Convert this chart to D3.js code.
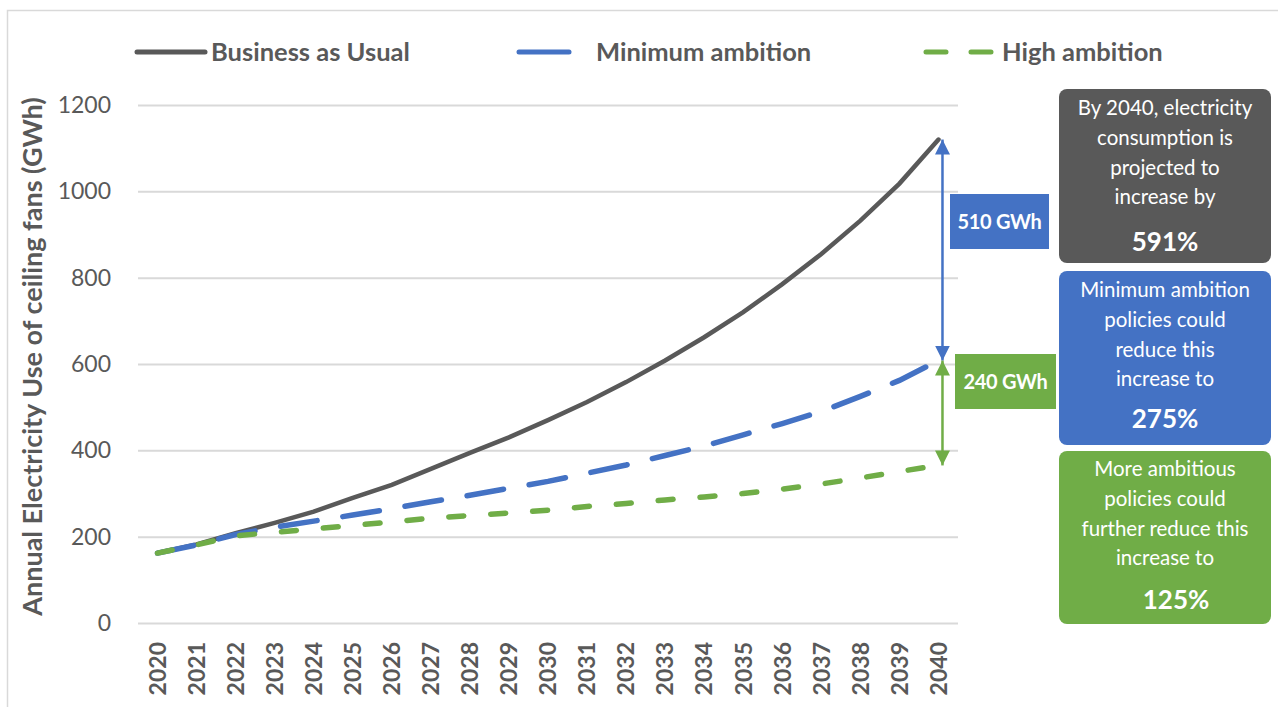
<!DOCTYPE html>
<html>
<head>
<meta charset="utf-8">
<script src="https://cdn.jsdelivr.net/npm/d3@7"></script>
<style>
  body { margin: 0; background: #fff; }
  svg { font-family: Lato, "Open Sans", sans-serif; }
</style>
</head>
<body>
<div id="chart"></div>
<script>
// chart data
const years = d3.range(2020, 2041).map(String);
const bau  = [162, 182, 208, 232, 258, 290, 320, 357, 394, 430, 470, 512, 558, 608, 662, 720, 785, 855, 932, 1018, 1120];
const minA = [162, 181, 205, 222, 236, 250, 265, 281, 296, 312, 328, 347, 366, 388, 410, 436, 462, 490, 525, 562, 608];
const highA = [162, 181, 202, 210, 218, 226, 234, 243, 249, 255, 261, 270, 277, 285, 292, 300, 310, 322, 336, 351, 365];
const yTicks = [0, 200, 400, 600, 800, 1000, 1200];

const seriesNames = ['Business as Usual', 'Minimum ambition', 'High ambition'];
const colors = ['#595959', '#4472C4', '#70AD47'];
const dashes = [null, '37 26', '15 27'];

const boxTexts = [
    { lines: ['By 2040, electricity', 'consumption is', 'projected to', 'increase by'], big: '591%' },
    { lines: ['Minimum ambition', 'policies could', 'reduce this', 'increase to'], big: '275%' },
    { lines: ['More ambitious', 'policies could', 'further reduce this', 'increase to'], big: '125%' }
];
const gapLabels = ['510 GWh', '240 GWh'];

const width = 1278, height = 707;
const svg = d3.select('#chart').append('svg')
    .attr('width', width)
    .attr('height', height);

// outer frame
svg.append('rect')
    .attr('x', 7.5).attr('y', 10.5)
    .attr('width', 1290).attr('height', 720)
    .attr('fill', 'none')
    .attr('stroke', '#d9d9d9')
    .attr('stroke-width', 1.5);

const x = d3.scaleBand().domain(years).range([138, 958]);
const y = d3.scaleLinear().domain([0, 1200]).range([623, 105]);
const cx = d => x(d) + x.bandwidth() / 2;

// gridlines + y labels
const yAxis = svg.append('g')
    .attr('transform', 'translate(138,0)')
    .call(d3.axisLeft(y).tickValues(yTicks).tickFormat(d3.format('d')).tickSize(-820).tickPadding(27));
yAxis.select('.domain').remove();
yAxis.selectAll('.tick line').attr('stroke', '#d9d9d9').attr('stroke-width', 2);
yAxis.selectAll('.tick text')
    .attr('fill', '#595959')
    .style('font-size', '23px')
    .style('font-family', 'Lato, sans-serif');

// x labels
const xAxis = svg.append('g')
    .attr('transform', 'translate(0,623)')
    .call(d3.axisBottom(x).tickSize(0));
xAxis.select('.domain').remove();
xAxis.selectAll('.tick text')
    .attr('transform', 'rotate(-90)')
    .attr('x', -19)
    .attr('y', 0)
    .attr('dy', '0.36em')
    .attr('text-anchor', 'end')
    .attr('fill', '#595959')
    .style('font-size', '23px')
    .style('font-weight', 'bold')
    .style('font-family', 'Lato, sans-serif');

// y axis title
svg.append('text')
    .attr('transform', `translate(42,${(93 + 620) / 2}) rotate(-90)`)
    .attr('text-anchor', 'middle')
    .attr('fill', '#595959')
    .style('font-size', '27px')
    .style('font-weight', 'bold')
    .text('Annual Electricity Use of ceiling fans (GWh)');

// lines
const line = d3.line()
    .x((d, i) => cx(years[i]))
    .y(d => y(d));

[bau, minA, highA].forEach((vals, i) => {
    svg.append('path')
        .datum(vals)
        .attr('d', line)
        .attr('fill', 'none')
        .attr('stroke', colors[i])
        .attr('stroke-width', i === 0 ? 4.5 : 5.5)
        .attr('stroke-linecap', 'round')
        .attr('stroke-dasharray', dashes[i]);
});

// arrow markers
const defs = svg.append('defs');
colors.slice(1).forEach((c, i) => {
    ['start', 'end'].forEach(pos => {
        defs.append('marker')
            .attr('id', `arr-${i}-${pos}`)
            .attr('viewBox', '0 0 10 10')
            .attr('refX', 10).attr('refY', 5)
            .attr('markerWidth', 6).attr('markerHeight', 6)
            .attr('markerUnits', 'strokeWidth')
            .attr('orient', pos === 'start' ? 'auto-start-reverse' : 'auto')
            .append('path')
            .attr('d', 'M0,0 L10,5 L0,10 Z')
            .attr('fill', c);
    });
});

const last = years.length - 1;
const ax = cx(years[last]) + 4;
const ends = [[bau[last], minA[last]], [minA[last], highA[last]]];
ends.forEach(([top, bottom], i) => {
    svg.append('line')
        .attr('x1', ax).attr('x2', ax)
        .attr('y1', y(top)).attr('y2', y(bottom))
        .attr('stroke', colors[i + 1])
        .attr('stroke-width', 2.5)
        .attr('marker-start', `url(#arr-${i}-start)`)
        .attr('marker-end', `url(#arr-${i}-end)`);
});

// gap label boxes
const gapBoxes = [
    { x: 950, y: 194, w: 99, h: 55 },
    { x: 955, y: 354, w: 101, h: 55 }
];
gapBoxes.forEach((b, i) => {
    svg.append('rect')
        .attr('x', b.x).attr('y', b.y)
        .attr('width', b.w).attr('height', b.h)
        .attr('fill', colors[i + 1]);
    svg.append('text')
        .attr('x', b.x + b.w / 2).attr('y', b.y + b.h / 2)
        .attr('dy', '0.35em')
        .attr('text-anchor', 'middle')
        .attr('fill', '#fff')
        .style('font-size', '20px')
        .style('font-weight', 'bold')
        .style('letter-spacing', '-0.3px')
        .text(gapLabels[i]);
});

// right-hand text boxes
const boxes = [
    { y: 89, h: 174, top: 108, bigY: 242, bigDx: 0 },
    { y: 271, h: 174, top: 290, bigY: 419, bigDx: 0 },
    { y: 451, h: 173, top: 469, bigY: 600, bigDx: 11 }
];
boxes.forEach((b, i) => {
    svg.append('rect')
        .attr('x', 1059).attr('y', b.y)
        .attr('width', 212).attr('height', b.h)
        .attr('rx', 8)
        .attr('fill', [ '#595959', '#4472C4', '#70AD47'][i]);
    const t = svg.append('text')
        .attr('text-anchor', 'middle')
        .attr('fill', '#fff')
        .style('font-size', '20.5px');
    boxTexts[i].lines.forEach((ln, j) => {
        t.append('tspan')
            .attr('x', 1165)
            .attr('y', b.top + j * 29.7)
            .attr('dy', '0.35em')
            .text(ln);
    });
    svg.append('text')
        .attr('x', 1165 + b.bigDx).attr('y', b.bigY)
        .attr('dy', '0.35em')
        .attr('text-anchor', 'middle')
        .attr('fill', '#fff')
        .style('font-size', '26px')
        .style('font-weight', 'bold')
        .text(boxTexts[i].big);
});

// legend
const legendItems = [
    { x1: 137, x2: 205, tx: 211 },
    { x1: 519, x2: 569, tx: 596 },
    { x1: 926, x2: 995, tx: 1002 }
];
legendItems.forEach((it, i) => {
    svg.append('line')
        .attr('x1', it.x1).attr('x2', it.x2)
        .attr('y1', 52).attr('y2', 52)
        .attr('stroke', colors[i])
        .attr('stroke-width', 5)
        .attr('stroke-linecap', 'round')
        .attr('stroke-dasharray', i === 2 ? '20 25' : null);
    svg.append('text')
        .attr('x', it.tx).attr('y', 52)
        .attr('dy', '0.35em')
        .attr('fill', '#595959')
        .style('font-size', '25.5px')
        .style('font-weight', 'bold')
        .text(seriesNames[i]);
});
</script>
</body>
</html>
